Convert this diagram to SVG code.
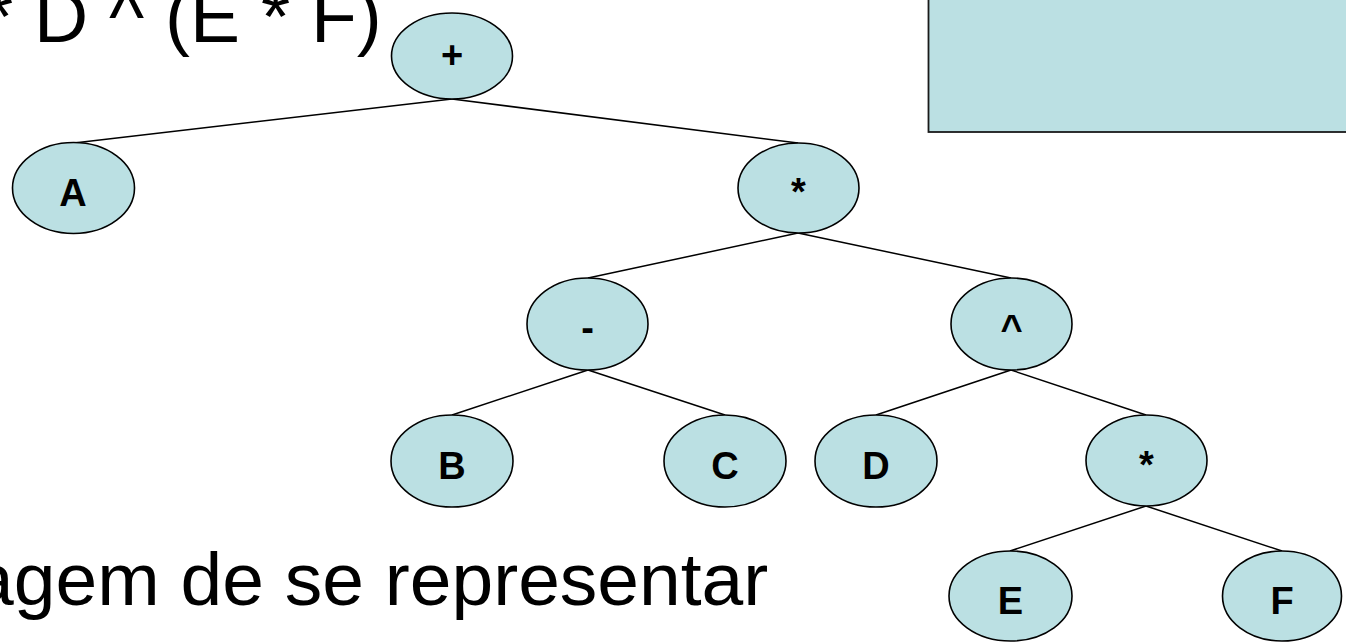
<svg xmlns="http://www.w3.org/2000/svg" width="1346" height="642" viewBox="0 0 1346 642">
<style>
.bg{fill:#ffffff}
.node ellipse{fill:#BBE0E3;stroke:#000;stroke-width:1.6}
.node text{font-family:"Liberation Sans",Arial,sans-serif;font-weight:bold;font-size:38px;text-anchor:middle;fill:#000}
.edges line{stroke:#000;stroke-width:1.5}
.big{font-family:"Liberation Sans",Arial,sans-serif;font-size:75px;fill:#000}
.box{fill:#BBE0E3;stroke:#1a1a1a;stroke-width:1.8}
</style>
<rect class="bg" x="0" y="0" width="1346" height="642"/>
<rect class="box" x="928.5" y="-3" width="430" height="135"/>
<text class="big" x="-16" y="42">* D ^ (E * F)</text>
<text class="big" x="-28" y="605">agem de se representar</text>
<g id="connectors" class="edges">
<line x1="452" y1="99" x2="74" y2="143"/>
<line x1="452" y1="99" x2="798" y2="143"/>
<line x1="798" y1="233" x2="588" y2="278"/>
<line x1="798" y1="233" x2="1011" y2="278"/>
<line x1="588" y1="370" x2="452" y2="415"/>
<line x1="588" y1="370" x2="725" y2="415"/>
<line x1="1011" y1="370" x2="876" y2="415"/>
<line x1="1011" y1="370" x2="1146" y2="415"/>
<line x1="1146" y1="506" x2="1010" y2="551"/>
<line x1="1146" y1="506" x2="1282" y2="551"/>
</g>
<g id="node-plus" class="node"><ellipse cx="452" cy="56" rx="60.5" ry="43"/><text x="452" y="68">+</text></g>
<g id="node-A" class="node"><ellipse cx="73.5" cy="188" rx="61" ry="45.5"/><text x="73" y="206">A</text></g>
<g id="node-mul1" class="node"><ellipse cx="798.5" cy="188" rx="60.5" ry="45"/><text x="798.5" y="205">*</text></g>
<g id="node-minus" class="node"><ellipse cx="587.5" cy="324" rx="60.5" ry="46"/><text x="587.5" y="341">-</text></g>
<g id="node-pow" class="node"><ellipse cx="1011.5" cy="324" rx="60.5" ry="46"/><text x="1011.5" y="342">^</text></g>
<g id="node-B" class="node"><ellipse cx="452" cy="461" rx="61" ry="46"/><text x="452" y="479">B</text></g>
<g id="node-C" class="node"><ellipse cx="725" cy="461" rx="61" ry="46"/><text x="725" y="479">C</text></g>
<g id="node-D" class="node"><ellipse cx="876" cy="461" rx="61" ry="46"/><text x="876" y="479">D</text></g>
<g id="node-mul2" class="node"><ellipse cx="1146.5" cy="460.5" rx="60.5" ry="45.5"/><text x="1146.5" y="478">*</text></g>
<g id="node-E" class="node"><ellipse cx="1010.5" cy="596" rx="61.5" ry="45"/><text x="1010.5" y="614">E</text></g>
<g id="node-F" class="node"><ellipse cx="1282" cy="596" rx="59.5" ry="45"/><text x="1282" y="614">F</text></g>
</svg>
